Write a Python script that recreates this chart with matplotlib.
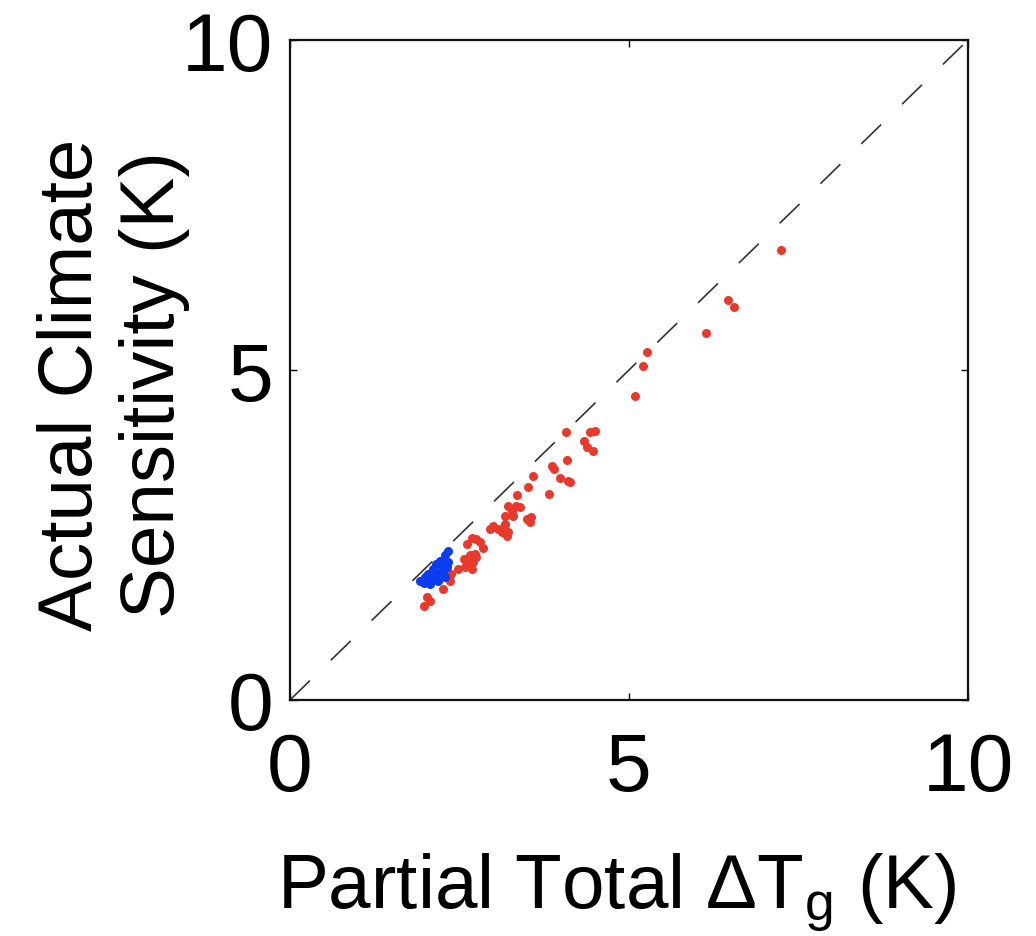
import matplotlib
matplotlib.use("Agg")
import matplotlib.pyplot as plt

fam = ['Liberation Sans', 'DejaVu Sans']
plt.rcParams['font.family'] = fam
plt.rcParams['mathtext.fontset'] = 'custom'
plt.rcParams['mathtext.rm'] = 'Liberation Sans'
plt.rcParams['mathtext.it'] = 'Liberation Sans'
plt.rcParams['lines.scale_dashes'] = False

# Red series (partial total dT_g, actual sensitivity)
red_x = [7.24, 6.46, 6.55, 6.14, 5.26, 5.20, 5.09,
         4.42, 4.33, 4.38, 4.47, 4.50, 4.07, 4.08, 3.87, 3.89, 3.98, 4.10, 4.13,
         3.82, 3.59, 3.51, 3.35, 3.22, 3.34, 3.39, 3.27, 3.17, 3.29,
         3.56, 3.54, 3.49, 3.00, 3.07, 3.17, 2.95, 3.22, 3.20, 3.15,
         3.12, 2.61, 2.68, 2.75, 2.85, 2.80,
         2.56, 2.65, 2.73, 2.61, 2.70, 2.68, 2.58, 2.75,
         2.48, 2.36, 2.38, 2.33, 2.25, 2.02, 1.97, 2.06]
red_y = [6.82, 6.06, 5.96, 5.56, 5.27, 5.06, 4.61,
         4.06, 3.93, 3.83, 3.78, 4.08, 4.06, 3.63, 3.55, 3.50, 3.37, 3.32, 3.30,
         3.12, 3.40, 3.22, 3.10, 2.94, 2.94, 2.92, 2.87, 2.79, 2.79,
         2.77, 2.69, 2.74, 2.64, 2.59, 2.67, 2.59, 2.54, 2.49, 2.62,
         2.54, 2.36, 2.46, 2.44, 2.31, 2.39,
         2.14, 2.19, 2.21, 2.06, 2.09, 1.98, 2.01, 2.16,
         1.98, 1.81, 1.91, 1.86, 1.68, 1.56, 1.43, 1.50]

# Blue series
blue_x = [2.33, 2.28, 2.21, 2.16, 2.24, 2.11, 2.19, 2.04, 1.99, 1.92,
          2.09, 2.19, 2.29, 2.26, 2.14, 1.97, 2.06, 2.33, 2.31]
blue_y = [2.26, 2.19, 2.11, 2.06, 2.03, 1.98, 1.93, 1.91, 1.86, 1.81,
          1.81, 1.81, 1.86, 1.96, 1.88, 1.78, 1.76, 2.09, 2.01]

ticks = [0, 5, 10]
tick_labels = ['0', '5', '10']

fig = plt.figure(figsize=(10.36, 9.37), dpi=100)
ax = fig.add_axes([290/1036, 1-701/937, (968-290)/1036, (701-41)/937])

ax.plot([0, 10], [0, 10], color='#333333', lw=1.2, linestyle=(0, (20, 21)), zorder=1)
ax.plot(red_x, red_y, 'o', color='#E8392B', ms=6.5, mew=0, zorder=2)
ax.plot(blue_x, blue_y, 'o', color='#0A3CF2', ms=6.5, mew=0, zorder=3)

ax.set_xlim(0, 10)
ax.set_ylim(0, 10)
ax.set_xticks(ticks)
ax.set_xticklabels(tick_labels)
ax.set_yticks(ticks)
ax.set_yticklabels(tick_labels)
ax.tick_params(direction='in', length=5, width=1, top=True, right=True, labelsize=59)
ax.tick_params(axis='x', pad=22)
ax.tick_params(axis='y', pad=12)
for s in ax.spines.values():
    s.set_linewidth(1.6)
    s.set_color('#111111')

ax.set_xlabel(r'Partial Total $\Delta$T$_\mathrm{g}$ (K)', fontsize=55)
ax.xaxis.set_label_coords(0.481, -0.228)
ax.set_ylabel('Actual Climate\nSensitivity (K)', fontsize=55, linespacing=1.2)
ax.yaxis.set_label_coords(-0.147, 0.479)

fig.savefig('out.png', dpi=100)
